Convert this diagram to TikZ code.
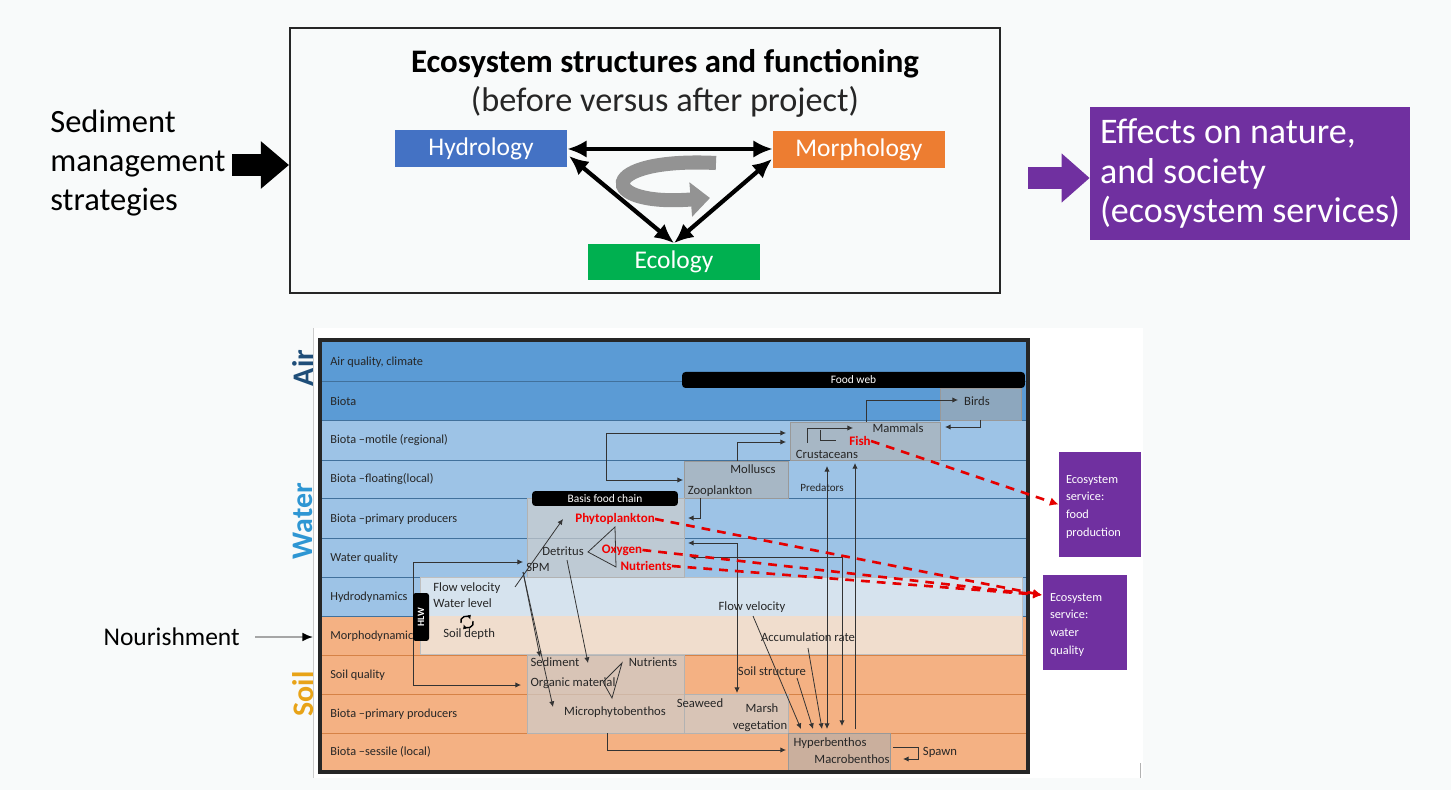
\documentclass[tikz,border=0pt]{standalone}
\usepackage{fontspec}
\setmainfont{Carlito}
\usetikzlibrary{arrows.meta}
\definecolor{pagebg}{RGB}{248,250,250}
\definecolor{hydblue}{RGB}{68,114,196}
\definecolor{morange}{RGB}{237,125,49}
\definecolor{ecogreen}{RGB}{0,176,80}
\definecolor{purp}{RGB}{112,48,160}
\definecolor{airblue}{RGB}{91,155,213}
\definecolor{waterblue}{RGB}{157,195,230}
\definecolor{soilor}{RGB}{244,177,131}
\definecolor{rowline}{RGB}{65,113,156}
\definecolor{soilline}{RGB}{214,130,70}
\definecolor{hydpale}{RGB}{214,227,238}
\definecolor{morpale}{RGB}{240,221,205}
\definecolor{airtext}{RGB}{31,78,121}
\definecolor{watertext}{RGB}{46,150,211}
\definecolor{soiltext}{RGB}{232,163,23}
\definecolor{graybox}{RGB}{175,175,175}
\definecolor{graylight}{RGB}{205,205,205}
\definecolor{curvegray}{RGB}{128,128,128}
\begin{document}
\begin{tikzpicture}[x=0.02cm, y=-0.02cm,
  rowlbl/.style={anchor=west, inner sep=0pt, font=\fontsize{7}{8}\selectfont, text=black!85},
  lbl/.style={inner sep=0pt, font=\fontsize{7.2}{8}\selectfont, text=black!85},
  rlbl/.style={inner sep=0pt, font=\bfseries\fontsize{7.4}{8}\selectfont, text=red!95!black},
  ar/.style={draw=black!80, line width=0.45pt, -{Latex[length=3.2pt,width=3pt]}},
  arr/.style={draw=black!80, line width=0.45pt, {Latex[length=3.2pt,width=3pt]}-{Latex[length=3.2pt,width=3pt]}},
  ln/.style={draw=black!80, line width=0.45pt},
  rdash/.style={draw=red!90!black, line width=1.5pt, dash pattern=on 5pt off 4pt, -{Latex[length=5pt,width=5pt]}},
  bigarr/.style={line width=2.4pt, {Latex[length=11pt,width=10pt]}-{Latex[length=11pt,width=10pt]}},
  gbox/.style={fill=graybox, fill opacity=0.6, draw=black!40, line width=0.3pt},
  lbox/.style={fill=graylight, fill opacity=0.7, draw=black!30, line width=0.3pt},
  bar/.style={fill=black, rounded corners=2pt, text=white, inner sep=0pt, font=\fontsize{6.5}{7}\selectfont},
  cbox/.style={inner sep=0pt, text=white, minimum width=3.44cm, minimum height=0.74cm, font=\fontsize{14.5}{16}\selectfont},
  svc/.style={fill=purp, text=white, inner xsep=0.14cm, align=left, font=\fontsize{7}{10}\selectfont},
]
\useasboundingbox (0,0) rectangle (1451,790);
\fill[pagebg] (0,0) rectangle (1451,790);

% ---------- top part ----------
\node[draw=black!85, line width=1.2pt, fill=pagebg, minimum width=14.2cm, minimum height=5.3cm, inner sep=0pt] (topbox) at (645,160.5) {};
\node[font=\bfseries\fontsize{18.7}{20}\selectfont, inner sep=0pt] (title) at (665,64) {Ecosystem structures and functioning};
\node[font=\fontsize{19.5}{20}\selectfont, inner sep=0pt, text=black!85] (sub) at (665,102) {(before versus after project)};
\node[cbox, fill=hydblue] (hyd) at (481,149) {Hydrology};
\node[cbox, fill=morange] (mor) at (859,150) {Morphology};
\node[cbox, fill=ecogreen] (eco) at (674,262) {Ecology};
\coordinate (hA) at (569,156);
\coordinate (mA) at (772,159);
\draw[bigarr] (hyd.east) -- (mor.west |- hyd.east);
\draw[bigarr] (hA) -- (eco.north);
\draw[bigarr] (mA) -- (eco.north);
\draw[line width=8pt, curvegray!85, -{Triangle[length=11pt,width=19pt]}] (716,163) .. controls (596,157) and (596,207) .. (710,198);

\node[anchor=west, align=left, inner sep=0pt, font=\fontsize{18.5}{22.2}\selectfont] (sed) at (50,163) {Sediment\\management\\strategies};
\coordinate (sa) at (232,165);
\draw[line width=12pt, -{Triangle[length=16pt,width=26pt]}] (sa) -- (topbox.west |- sa);

\node[fill=purp, minimum width=6.4cm, minimum height=2.66cm, inner xsep=0.2cm, align=left, text=white, font=\fontsize{20.5}{22.7}\selectfont] (eff) at (1250,173.5) {Effects on nature,\\and society\\(ecosystem services)};
\coordinate (pa) at (1028,178);
\draw[purp, line width=13pt, -{Triangle[length=16pt,width=27pt]}] (pa) -- (eff.west |- pa);

% ---------- bottom panel ----------
\fill[white] (313,328) rectangle (1143,778);
\draw[black!20] (313,328) -- (313,778);
\draw[black!30] (1140,763) -- (1140,778);

\fill[airblue] (320,340) rectangle (1028,420);
\fill[waterblue] (320,420) rectangle (1028,616);
\fill[soilor] (320,616) rectangle (1028,772);
\foreach \yy in {381,420,460,498,538,577,616} \draw[rowline, line width=0.5pt] (320,\yy) -- (1028,\yy);
\foreach \yy in {655,694,733} \draw[soilline, line width=0.5pt] (320,\yy) -- (1028,\yy);

\node[rowlbl] (r1) at (330,362) {Air quality, climate};
\node[rowlbl] (r2) at (330,401) {Biota};
\node[rowlbl] (r3) at (330,440) {Biota –motile (regional)};
\node[rowlbl] (r4) at (330,479) {Biota –floating(local)};
\node[rowlbl] (r5) at (330,519) {Biota –primary producers};
\node[rowlbl] (r6) at (330,558) {Water quality};
\node[rowlbl] (r7) at (330,597) {Hydrodynamics};
\node[rowlbl] (r8) at (330,636) {Morphodynamics};
\node[rowlbl] (r9) at (330,675) {Soil quality};
\node[rowlbl] (r10) at (330,714) {Biota –primary producers};
\node[rowlbl] (r11) at (330,752) {Biota –sessile (local)};

\node[rotate=90, inner sep=0pt, font=\bfseries\fontsize{17}{18}\selectfont, text=airtext] (air) at (303,368) {Air};
\node[rotate=90, inner sep=0pt, font=\bfseries\fontsize{17}{18}\selectfont, text=watertext] (water) at (303,521) {Water};
\node[rotate=90, inner sep=0pt, font=\bfseries\fontsize{17}{18}\selectfont, text=soiltext] (soil) at (303,694) {Soil};

% pale boxes
\fill[hydpale] (420,577) rectangle (1022,616);
\fill[morpale] (420,616) rectangle (1022,654);
\draw[black!25, line width=0.3pt] (420,577) rectangle (1022,654);

% gray boxes
\draw[gbox] (940,388) rectangle (1021,420);
\draw[gbox] (790,422) rectangle (940,460);
\draw[gbox] (684,461) rectangle (788,498);
\draw[lbox] (527,498) rectangle (684,577);
\draw[lbox] (527,655) rectangle (684,733);
\draw[lbox] (684,694) rectangle (788,733);
\draw[gbox] (788,733) rectangle (890,770);

% black bars
\node[bar, minimum width=6.86cm, minimum height=0.32cm] (fw) at (853.5,380) {Food web};
\node[bar, minimum width=2.92cm, minimum height=0.3cm] (bfc) at (605,498.5) {Basis food chain};

% connectors
\draw[ar] (866,422) -- (866,400) -- (958,400);
\draw[ar] (980,420) -- (980,427) -- (945,427);
\draw[ar] (807,443) -- (807,428) -- (853,428);
\draw[ln] (820,430) -- (820,440) -- (836,440);
\draw[arr] (786,433) -- (606,433) -- (606,480) -- (683,480);
\draw[ar] (737,461) -- (737,442) -- (786,442);
\draw[ar] (700,498) -- (700,518) -- (688,518);
\draw[arr] (827,466) -- (827,729);
\draw[ar] (855,729) -- (855,463);
\draw[arr] (688,543) -- (737,543) -- (737,693);
\draw[arr] (690,557) -- (842,557) -- (842,726);
\draw[ar] (753,616) -- (801,729);
\draw[ar] (797,678) -- (813,729);
\draw[ar] (808,648) -- (822,729);
\draw[ar] (893,747) -- (918,747) -- (918,759) -- (903,759);
\draw[ar] (607,733) -- (607,750) -- (786,750);
\draw[arr] (523,562) -- (413,562) -- (413,685) -- (521,685);
\draw[ar] (515,587) -- (563,519);
\draw[ar] (523,572) -- (540,657);
\draw[ar] (523,572) -- (553,707);
\draw[ar] (567,560) -- (588,663);
\draw[ln] (588,552) -- (615,527) -- (616,567) -- cycle;
\draw[ln] (622,663) -- (603,682) -- (612,698) -- cycle;

% texts
\node[lbl] (birds) at (977,401) {Birds};
\node[lbl] (mam) at (898,428) {Mammals};
\node[rlbl] (fish) at (860,441) {Fish};
\node[lbl] (crus) at (827,454) {Crustaceans};
\node[lbl] (moll) at (753,469) {Molluscs};
\node[lbl] (zoo) at (720,491) {Zooplankton};
\node[lbl, font=\fontsize{6.3}{7}\selectfont] (pred) at (822,488) {Predators};
\node[rlbl] (phyto) at (615,519) {Phytoplankton};
\node[lbl] (detr) at (563,551) {Detritus};
\node[rlbl] (oxy) at (622,550) {Oxygen};
\node[rlbl] (nutw) at (646,566) {Nutrients};
\node[lbl] (spm) at (538,567) {SPM};
\node[lbl, anchor=west] (fv1) at (433,588) {Flow velocity};
\node[lbl, anchor=west] (wl) at (433,603) {Water level};
\node[lbl, anchor=west] (sd) at (443,634) {Soil depth};
\draw[line width=0.8pt, -{Latex[length=2.5pt,width=2.5pt]}] (461,623) arc (200:20:0.1cm);
\draw[line width=0.8pt, -{Latex[length=2.5pt,width=2.5pt]}] (473,621) arc (20:-160:0.1cm);
\node[lbl] (fv2) at (752,607) {Flow velocity};
\node[lbl] (acc) at (808,637) {Accumulation rate};
\node[lbl] (ss) at (772,671) {Soil structure};
\node[lbl] (sedi) at (555,662) {Sediment};
\node[lbl] (nuts) at (653,662) {Nutrients};
\node[lbl] (org) at (573,683) {Organic material};
\node[lbl] (micro) at (615,712) {Microphytobenthos};
\node[lbl] (seaw) at (700,703) {Seaweed};
\node[lbl] (marsh) at (762,708) {Marsh};
\node[lbl] (veg) at (760,726) {vegetation};
\node[lbl] (hyper) at (830,743) {Hyperbenthos};
\node[lbl] (macro) at (852,759) {Macrobenthos};
\node[lbl] (spawn) at (940,752) {Spawn};

\node[fill=black, rounded corners=1.5pt, minimum width=0.32cm, minimum height=0.96cm, inner sep=0pt, text=white, font=\bfseries\fontsize{5.5}{6}\selectfont] (hlw) at (421,617) {\rotatebox{90}{HLW}};

\draw[black!85, line width=1.8pt] (320,340) rectangle (1028,772);

% services
\node[svc, minimum width=1.64cm, minimum height=2.1cm, text width=1.36cm] (efood) at (1100,504.5) {\strut Ecosystem\\service:\\food\\production};
\node[svc, minimum width=1.68cm, minimum height=1.9cm, text width=1.40cm] (ewq) at (1085,622.5) {\strut Ecosystem\\service:\\water\\quality};
\coordinate (wqin) at (1042,595);
\draw[rdash] (fish.east) -- (efood.west);
\draw[rdash] (phyto.east) -- (wqin);
\draw[rdash] (oxy.east) -- (wqin);
\draw[rdash] (nutw.east) -- (wqin);

% nourishment
\node[anchor=east, inner sep=0pt, font=\fontsize{14.5}{16}\selectfont] (nour) at (240,637) {Nourishment};
\coordinate (na) at (313,637);
\draw[gray!70, line width=1pt, -{Latex[length=6pt,width=5pt,color=black]}] (nour.east) ++(15,0) -- (na);
\end{tikzpicture}
\end{document}
